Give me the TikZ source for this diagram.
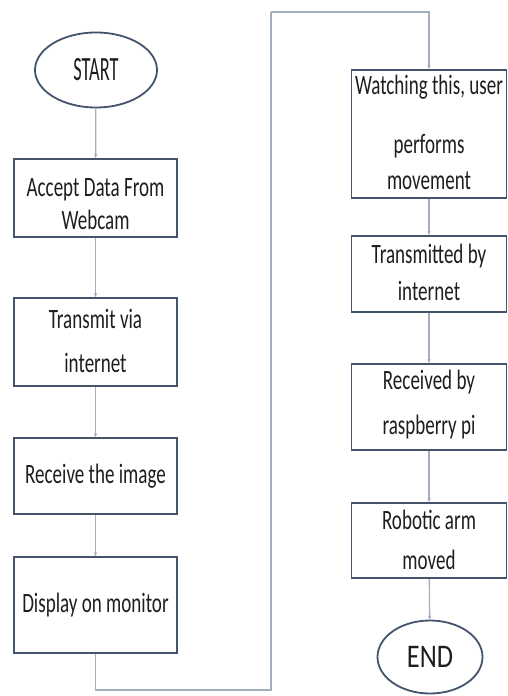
\documentclass[tikz,border=0pt]{standalone}
\usepackage{fontspec}
\usetikzlibrary{shapes.geometric,arrows.meta}
\newfontfamily\boxfont[FakeStretch=0.68]{Carlito}
\newfontfamily\startfont[FakeStretch=0.54]{Carlito}
\newfontfamily\endfont[FakeStretch=0.8]{Carlito}
\definecolor{boxline}{HTML}{44546A}
\definecolor{conn}{HTML}{A3AEC0}
\definecolor{txt}{HTML}{1E1E1E}
\newcommand{\lines}[2]{\raisebox{#1}[\height][\depth]{\begin{tabular}{@{}c@{}}#2\end{tabular}}}
\tikzset{
  procbox/.style={draw=boxline, line width=1.8pt, rectangle, align=center, inner sep=0pt,
    text=txt, font=\boxfont\fontsize{28}{33}\selectfont},
  term/.style={draw=boxline, line width=1.8pt, ellipse, inner sep=0pt, align=center,
    text=txt},
  flow/.style={draw=conn, line width=1.3pt, -{Stealth[length=4pt,width=3.5pt]}},
  plain/.style={draw=conn, line width=1.3pt}
}
\begin{document}
\begin{tikzpicture}[x=1pt,y=-1pt]
\useasboundingbox (0,0) rectangle (507,696);
\fill[white] (0,0) rectangle (507,696);
% left column
\node[term, minimum width=122pt, minimum height=75pt, font=\startfont\fontsize{34}{36}\selectfont] (start) at (96,70) {START};
\node[procbox, minimum width=163pt, minimum height=78pt] (b1) at (95.5,198) {\lines{-8pt}{Accept Data From\\Webcam}};
\node[procbox, minimum width=163pt, minimum height=88pt] (b2) at (95.5,342) {\lines{-2pt}{Transmit via\\[11pt]internet}};
\node[procbox, minimum width=163pt, minimum height=76pt] (b3) at (95.5,476) {Receive the image};
\node[procbox, minimum width=163pt, minimum height=96pt] (b4) at (95.5,605) {Display on monitor};
% right column
\node[procbox, minimum width=155pt, minimum height=118pt] (b5) at (429,134) {\lines{-1.5pt}{Watching this, user\\[26pt]performs\\[3pt]movement}};
\node[procbox, minimum width=155pt, minimum height=76pt] (b6) at (429,274) {\lines{-1pt}{Transmitted by\\[4pt]internet}};
\node[procbox, minimum width=155pt, minimum height=86pt] (b7) at (429,407) {\lines{2pt}{Received by\\[12pt]raspberry pi}};
\node[procbox, minimum width=155pt, minimum height=75pt] (b8) at (429,540.5) {\lines{-2.5pt}{Robotic arm\\[7pt]moved}};
\node[term, minimum width=105pt, minimum height=73pt, font=\endfont\fontsize{33}{36}\selectfont] (end) at (430,657) {END};
% connectors
\coordinate (c1) at (271,690);
\coordinate (c2) at (271,12);
\draw[flow] (start) -- (b1);
\draw[flow] (b1) -- (b2);
\draw[flow] (b2) -- (b3);
\draw[flow] (b3) -- (b4);
\draw[plain] (b4.south) |- (c1) -- (c2);
\draw[flow] (c2) -| (b5.north);
\draw[flow] (b5) -- (b6);
\draw[flow] (b6) -- (b7);
\draw[flow] (b7) -- (b8);
\draw[flow] (b8) -- (end);
\end{tikzpicture}
\end{document}
